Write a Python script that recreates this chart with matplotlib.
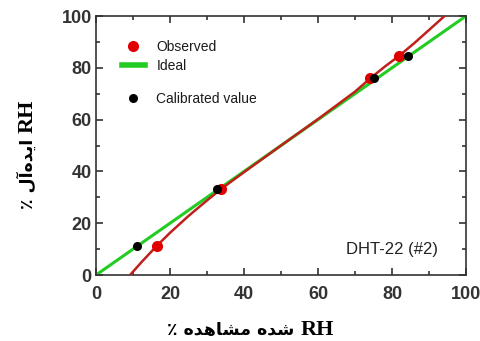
import matplotlib
matplotlib.use("Agg")
import matplotlib.pyplot as plt
from matplotlib.lines import Line2D

# measured points
obs_x = [16.4, 33.8, 74.1, 81.9]
obs_y = [11.2, 33.2, 75.9, 84.6]
cal_x = [11.0, 32.6, 75.2, 84.4]
cal_y = [11.2, 33.2, 75.9, 84.6]

fit_x = [9.2, 12.5, 16.4, 20, 25, 30, 33.8, 40, 50, 60, 70, 74.1, 78, 81.9, 86, 90, 94.2]
fit_y = [0, 5.3, 11.2, 16.3, 22.8, 28.8, 33.2, 39.7, 50, 60.2, 70.8, 75.9, 80.4, 84.6, 89.5, 94.6, 100]

ideal = [0, 100]

ticks = [0, 20, 40, 60, 80, 100]

# Persian labels, written in visual order with presentation forms
# (matplotlib does no shaping / bidi)
xlabel_fa = "\u066a \ufee9\ufeaa\ufeeb\ufe8e\ufeb8\ufee3 \ufee9\ufeaa\ufeb7"
ylabel_fa = "\u066a \ufedd\ufe81\ufee9\ufeaa\ufbfe\ufe8d"
label_rh = "RH"

fig = plt.figure(figsize=(4.81, 3.41), dpi=100)
ax = fig.add_axes([0.1996, 0.1935, 0.7692, 0.7595])

ax.plot(ideal, ideal, color="#22cc22", lw=2.2, zorder=2)
ax.plot(fit_x, fit_y, color="#c0201c", lw=1.8, zorder=3)
ax.plot(obs_x, obs_y, "o", color="#e00000", ms=8, mec="none", zorder=4)
ax.plot(cal_x, cal_y, "o", color="black", ms=6.5, mec="none", zorder=5)

ax.set_xlim(0, 100)
ax.set_ylim(0, 100)
ax.set_xticks(ticks)
ax.set_yticks(ticks)
ax.set_xticks(range(10, 100, 20), minor=True)
ax.set_yticks(range(10, 100, 20), minor=True)
ax.tick_params(which="both", direction="in", top=True, right=True,
               colors="#333333", width=1.2)
ax.tick_params(which="major", length=5, labelsize=13)
ax.tick_params(axis="x", which="major", pad=8)
ax.tick_params(axis="y", which="major", pad=3)
ax.tick_params(which="minor", length=3)
for lab in ax.get_xticklabels() + ax.get_yticklabels():
    lab.set_fontfamily("Liberation Sans")
    lab.set_fontweight("bold")
for s in ax.spines.values():
    s.set_color("#333333")
    s.set_linewidth(1.2)

legprop = {"family": "Liberation Sans", "size": 10}
h_obs = Line2D([], [], ls="", marker="o", color="#e00000", ms=8, mec="none")
h_ideal = Line2D([], [], color="#22cc22", lw=4)
h_cal = Line2D([], [], ls="", marker="o", color="black", ms=6.5, mec="none")

leg1 = ax.legend([h_obs, h_ideal], ["Observed", "Ideal"], loc="upper left",
                 bbox_to_anchor=(0.056, 0.93), frameon=False,
                 handlelength=1.6, handletextpad=0.86, labelspacing=0.35,
                 borderaxespad=0, prop=legprop)
for t in leg1.get_texts():
    t.set_color("#1a1a1a")
ax.add_artist(leg1)
leg2 = ax.legend([h_cal], ["Calibrated value"], loc="upper left",
                 bbox_to_anchor=(0.056, 0.73), frameon=False,
                 handlelength=1.6, handletextpad=0.86,
                 borderaxespad=0, prop=legprop)
for t in leg2.get_texts():
    t.set_color("#1a1a1a")

ax.text(92.5, 10, "DHT-22 (#2)", ha="right", va="center",
        family="Liberation Sans", fontsize=12, color="#222222")

# x label: Persian words + RH
fig.text(0.611, 0.018, xlabel_fa, ha="right", va="baseline", fontsize=12.5,
         fontweight="bold", family="DejaVu Sans")
fig.text(0.624, 0.018, label_rh, ha="left", va="baseline", fontsize=16,
         fontweight="bold", family="Liberation Serif")

# y label, rotated
fig.text(0.0686, 0.594, ylabel_fa, ha="right", va="baseline", rotation=90,
         rotation_mode="anchor", fontsize=12.5, fontweight="bold",
         family="DejaVu Sans")
fig.text(0.0686, 0.610, label_rh, ha="left", va="baseline", rotation=90,
         rotation_mode="anchor", fontsize=16, fontweight="bold",
         family="Liberation Serif")

fig.savefig("out.png", dpi=100)
